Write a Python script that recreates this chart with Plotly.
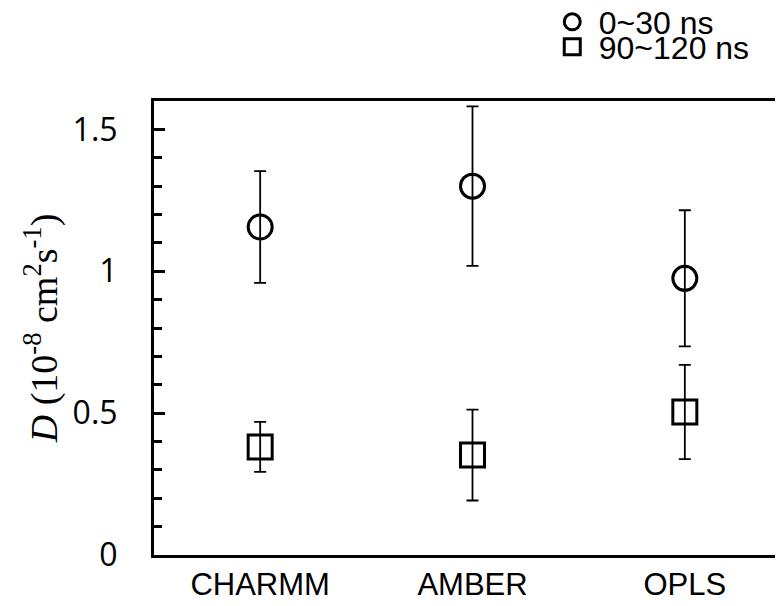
import plotly.graph_objects as go

categories = ["CHARMM", "AMBER", "OPLS"]
d_early = [1.156, 1.30, 0.975]      # 0~30 ns
err_early = [0.197, 0.281, 0.24]
d_late = [0.381, 0.352, 0.504]      # 90~120 ns
err_late = [0.088, 0.16, 0.166]
y_ticks = [0, 0.5, 1, 1.5]
y_tick_text = ["0", "0.5", "1", "1.5"]

xpos = list(range(len(categories)))

fig = go.Figure()
fig.add_trace(go.Scatter(
    x=xpos, y=d_early, mode="markers", name="0~30 ns", legend="legend",
    marker=dict(symbol="circle-open", size=24, color="black", line=dict(width=3, color="black")),
    error_y=dict(type="data", array=err_early, color="black", thickness=1.8, width=6),
))
fig.add_trace(go.Scatter(
    x=xpos, y=d_late, mode="markers", name="90~120 ns", legend="legend2",
    marker=dict(symbol="square-open", size=24, color="black", line=dict(width=3, color="black")),
    error_y=dict(type="data", array=err_late, color="black", thickness=1.8, width=6),
))

legend_common = dict(
    font=dict(family="Liberation Sans", size=32, color="black"),
    bgcolor="rgba(0,0,0,0)", borderwidth=0, xanchor="left", yanchor="middle",
    itemwidth=43,
)
fig.update_layout(
    width=783, height=606,
    margin=dict(l=146, r=0, t=93, b=59, autoexpand=False),
    paper_bgcolor="white", plot_bgcolor="white",
    showlegend=True,
    legend=dict(x=0.615, y=1.174, **legend_common),
    legend2=dict(x=0.615, y=1.119, **legend_common),
    xaxis=dict(
        range=[-0.5, 2.5], tickvals=xpos, ticktext=categories,
        showline=True, linewidth=3, linecolor="black", mirror=True,
        showgrid=False, zeroline=False, ticks="",
        tickfont=dict(family="Liberation Sans", size=31, color="black"),
        ticklabelstandoff=0, automargin=False,
    ),
    yaxis=dict(
        range=[0, 1.6], tickvals=y_ticks, ticktext=y_tick_text,
        showline=True, linewidth=3, linecolor="black", mirror=False,
        showgrid=False, zeroline=False,
        ticks="inside", ticklen=11, tickwidth=2.5, tickcolor="black",
        minor=dict(dtick=0.1, ticks="inside", ticklen=8, tickwidth=2.5, tickcolor="black", showgrid=False),
        tickfont=dict(family="Open Sans", size=32, color="black"),
        ticklabelstandoff=27, automargin=False,
        title=dict(
            text="<i>D</i> (10<sup>-8</sup> cm<sup>2</sup>s<sup>-1</sup>)",
            font=dict(family="Liberation Serif", size=38, color="black"),
            standoff=4,
        ),
    ),
)

fig.write_html("out.html")
